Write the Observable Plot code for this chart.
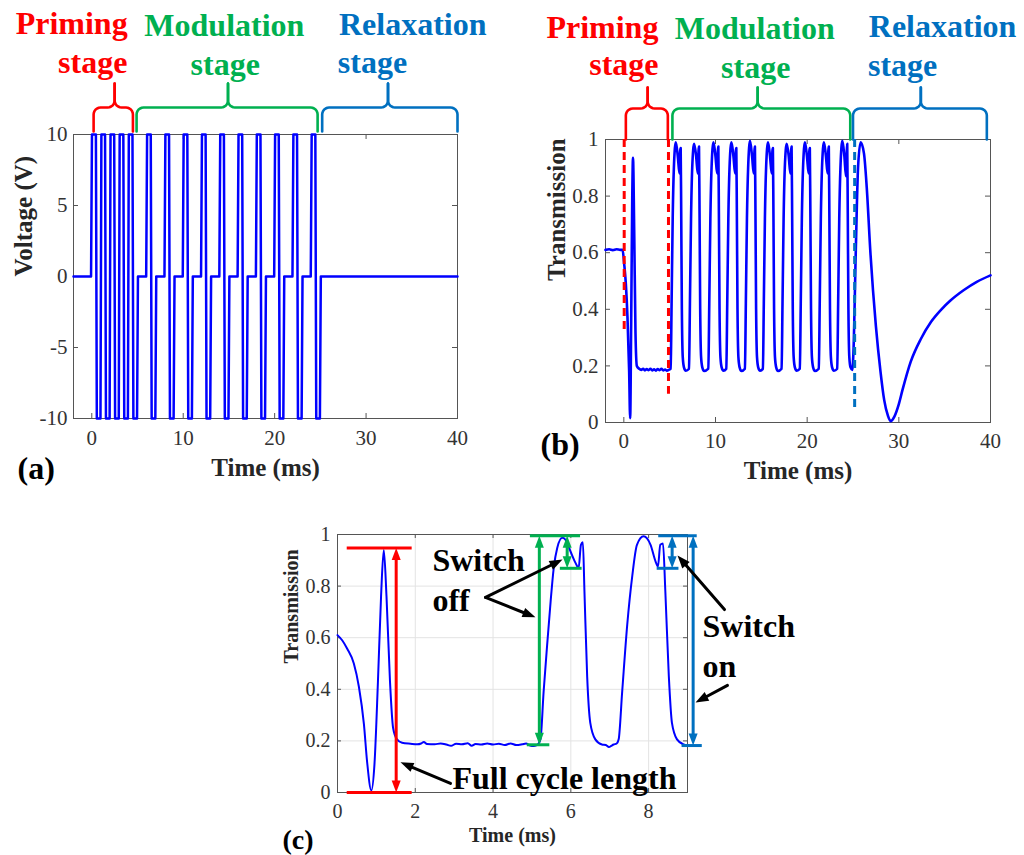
<!DOCTYPE html>
<html>
<head>
<meta charset="utf-8">
<script src="https://cdn.jsdelivr.net/npm/d3@7"></script>
<script src="https://cdn.jsdelivr.net/npm/@observablehq/plot@0.6"></script>
<style>
  html, body { margin: 0; padding: 0; background: #fff; }
  #root { position: relative; width: 1024px; height: 855px; overflow: hidden; background: #fff; }
  .panel { position: absolute; }
  .panel svg { overflow: visible; }
</style>
</head>
<body>
<div id="root"></div>
<script>
// ---------------- DATA ----------------
const stageNames = ["Priming", "Modulation", "Relaxation"];
const stageWord = "stage";
const stageColors = ["#ff0000", "#00b050", "#0070c0"];
const stageStart = [0, 5, 25];
const stageEnd = [5, 25, 40];

// (a) drive voltage breakpoints
const voltTime = [-2, -0.08,
  0.02, 0.45, 0.55, 0.95, 1.05, 1.45, 1.55, 1.95, 2.05, 2.45, 2.55, 2.95, 3.05, 3.45, 3.55, 3.95, 4.05, 4.45, 4.55, 4.95,
  5.05,
  5.95, 6.05, 6.45, 6.55, 6.95, 7.05,
  7.95, 8.05, 8.45, 8.55, 8.95, 9.05,
  9.95, 10.05, 10.45, 10.55, 10.95, 11.05,
  11.95, 12.05, 12.45, 12.55, 12.95, 13.05,
  13.95, 14.05, 14.45, 14.55, 14.95, 15.05,
  15.95, 16.05, 16.45, 16.55, 16.95, 17.05,
  17.95, 18.05, 18.45, 18.55, 18.95, 19.05,
  19.95, 20.05, 20.45, 20.55, 20.95, 21.05,
  21.95, 22.05, 22.45, 22.55, 22.95, 23.05,
  23.95, 24.05, 24.45, 24.55, 24.95, 25.05,
  40];
const voltValue = [0, 0,
  10, 10, -10, -10, 10, 10, -10, -10, 10, 10, -10, -10, 10, 10, -10, -10, 10, 10, -10, -10,
  0,
  0, 10, 10, -10, -10, 0,
  0, 10, 10, -10, -10, 0,
  0, 10, 10, -10, -10, 0,
  0, 10, 10, -10, -10, 0,
  0, 10, 10, -10, -10, 0,
  0, 10, 10, -10, -10, 0,
  0, 10, 10, -10, -10, 0,
  0, 10, 10, -10, -10, 0,
  0, 10, 10, -10, -10, 0,
  0, 10, 10, -10, -10, 0,
  0];

// (b) transmission, full 40 ms record [time ms, transmission]
const transB = [
  [-2,0.61],[-1.6,0.612],[-1.2,0.609],[-0.8,0.612],[-0.4,0.61],[-0.14,0.61],[0.04,0.56],[0.22,0.49],[0.4,0.37],[0.58,0.18],[0.69,0.015],[0.8,0.35],[0.92,0.8],[1.0,0.935],[1.13,0.68],[1.27,0.32],[1.42,0.2],[1.67,0.19],[1.9,0.186],[2.1,0.19],[2.3,0.184],[2.5,0.189],[2.7,0.185],[2.9,0.19],[3.1,0.184],[3.3,0.188],[3.5,0.183],[3.7,0.189],[3.9,0.185],[4.1,0.19],[4.3,0.184],[4.5,0.187],[4.7,0.183],[4.9,0.186],
  [5.11,0.19],[5.21,0.42],[5.33,0.72],[5.46,0.9],[5.67,0.99],[5.89,0.94],[6.07,0.88],[6.15,0.96],[6.2,0.97],[6.26,0.74],[6.33,0.4],[6.43,0.23],[6.56,0.195],[6.76,0.183],
  [7.11,0.19],[7.21,0.42],[7.33,0.72],[7.46,0.9],[7.67,0.985],[7.89,0.94],[8.07,0.88],[8.15,0.96],[8.2,0.975],[8.26,0.74],[8.33,0.4],[8.43,0.23],[8.56,0.195],[8.76,0.182],
  [9.22,0.19],[9.32,0.42],[9.44,0.72],[9.57,0.9],[9.78,0.99],[10.0,0.94],[10.18,0.88],[10.26,0.96],[10.31,0.975],[10.37,0.74],[10.44,0.4],[10.54,0.23],[10.67,0.195],[10.87,0.183],
  [11.18,0.19],[11.28,0.42],[11.4,0.72],[11.53,0.9],[11.74,0.99],[11.96,0.94],[12.14,0.88],[12.22,0.96],[12.27,0.97],[12.33,0.74],[12.4,0.4],[12.5,0.23],[12.63,0.195],[12.83,0.182],
  [13.21,0.19],[13.31,0.42],[13.43,0.72],[13.56,0.9],[13.77,0.995],[13.99,0.94],[14.17,0.88],[14.25,0.96],[14.3,0.975],[14.36,0.74],[14.43,0.4],[14.53,0.23],[14.66,0.195],[14.86,0.183],
  [15.17,0.19],[15.27,0.42],[15.39,0.72],[15.52,0.9],[15.73,0.99],[15.95,0.94],[16.13,0.88],[16.21,0.96],[16.26,0.97],[16.32,0.74],[16.39,0.4],[16.49,0.23],[16.62,0.195],[16.82,0.182],
  [17.21,0.19],[17.31,0.42],[17.43,0.72],[17.56,0.9],[17.77,0.985],[17.99,0.94],[18.17,0.88],[18.25,0.96],[18.3,0.975],[18.36,0.74],[18.43,0.4],[18.53,0.23],[18.66,0.195],[18.86,0.183],
  [19.2,0.19],[19.3,0.42],[19.42,0.72],[19.55,0.9],[19.76,0.99],[19.98,0.94],[20.16,0.88],[20.24,0.96],[20.29,0.97],[20.35,0.74],[20.42,0.4],[20.52,0.23],[20.65,0.195],[20.85,0.182],
  [21.27,0.19],[21.37,0.42],[21.49,0.72],[21.62,0.9],[21.83,0.99],[22.05,0.94],[22.23,0.88],[22.31,0.96],[22.36,0.975],[22.42,0.74],[22.49,0.4],[22.59,0.23],[22.72,0.195],[22.92,0.183],
  [23.28,0.19],[23.38,0.42],[23.5,0.72],[23.63,0.9],[23.84,0.995],[24.06,0.94],[24.24,0.87],[24.32,0.96],[24.37,0.985],[24.43,0.74],[24.5,0.4],[24.6,0.23],[24.73,0.195],[24.93,0.186],
  [25.05,0.25],[25.3,0.6],[25.55,0.9],[25.83,0.99],[26.2,0.95],[26.5,0.83],[26.9,0.6],[27.5,0.34],[28.0,0.18],[28.4,0.08],[28.8,0.025],[29.1,0.005],[29.5,0.02],[30.0,0.065],[30.4,0.115],[31.3,0.215],[32.4,0.295],[33.5,0.355],[34.6,0.398],[35.6,0.43],[37.1,0.468],[38.5,0.497],[40,0.52]
];

// (c) transmission, first 9 ms in detail [time ms, transmission]
const transC = [
  [0,0.61],[0.12,0.59],[0.25,0.557],[0.42,0.5],[0.55,0.41],[0.68,0.264],[0.76,0.121],[0.87,0.008],[0.95,0.108],[1.04,0.43],[1.12,0.76],[1.19,0.94],[1.26,0.76],[1.35,0.43],[1.43,0.25],[1.53,0.206],[1.66,0.193],[1.88,0.189],
  [2.05,0.187],[2.15,0.19],[2.22,0.196],[2.3,0.188],[2.5,0.187],[2.65,0.19],[2.8,0.186],[2.92,0.181],[3.05,0.189],[3.2,0.187],[3.35,0.191],[3.45,0.181],[3.55,0.188],[3.7,0.186],[3.85,0.19],[4.0,0.186],[4.15,0.189],[4.3,0.184],[4.45,0.19],[4.6,0.184],[4.75,0.187],[4.85,0.19],[4.95,0.182],[5.05,0.18],[5.15,0.186],
  [5.22,0.206],[5.3,0.39],[5.39,0.57],[5.48,0.74],[5.56,0.87],[5.65,0.948],[5.78,0.987],[5.86,0.98],[5.99,0.935],[6.12,0.89],[6.2,0.87],[6.26,0.96],[6.31,0.97],[6.35,0.78],[6.42,0.45],[6.5,0.27],[6.63,0.206],[6.8,0.186],[6.9,0.184],[6.98,0.176],[7.05,0.182],[7.1,0.186],[7.18,0.19],
  [7.23,0.206],[7.32,0.39],[7.45,0.65],[7.58,0.84],[7.7,0.96],[7.87,0.993],[8.05,0.96],[8.18,0.895],[8.24,0.876],[8.3,0.96],[8.37,0.965],[8.43,0.78],[8.52,0.45],[8.6,0.27],[8.73,0.206],[8.9,0.186],[9.0,0.183]
];

// tick values
const timeTicks = [0, 10, 20, 30, 40];
const voltTicks = [-10, -5, 0, 5, 10];
const transTicks = [0, 0.2, 0.4, 0.6, 0.8, 1];
const zoomTimeTicks = [0, 2, 4, 6, 8];

// (c) measurement annotations (c = stage colour index)
const levelLines = [
  {x1: 0.25, x2: 1.92, y: 0.948, c: 0}, {x1: 0.25, x2: 1.92, y: 0, c: 0},
  {x1: 4.96, x2: 6.25, y: 0.995, c: 1}, {x1: 4.88, x2: 5.46, y: 0.185, c: 1}, {x1: 5.73, x2: 6.29, y: 0.869, c: 1},
  {x1: 8.26, x2: 9.25, y: 0.995, c: 2}, {x1: 8.22, x2: 8.78, y: 0.869, c: 2}, {x1: 8.86, x2: 9.38, y: 0.182, c: 2}
];
const spanArrows = [
  {x: 1.509, y1: 0, y2: 0.948, c: 0},
  {x: 5.19, y1: 0.185, y2: 0.995, c: 1}, {x: 5.906, y1: 0.869, y2: 0.995, c: 1},
  {x: 8.605, y1: 0.869, y2: 0.995, c: 2}, {x: 9.145, y1: 0.182, y2: 0.995, c: 2}
];
const calloutText = [
  {text: "Switch", x: 2.44, y: 0.86}, {text: "off", x: 2.44, y: 0.705},
  {text: "Switch", x: 9.385, y: 0.601}, {text: "on", x: 9.385, y: 0.446},
  {text: "Full cycle length", x: 2.957, y: 0.012}
];
const calloutArrows = [
  {x1: 2.906, y1: 0.035, x2: 1.62, y2: 0.117},
  {x1: 3.806, y1: 0.756, x2: 5.786, y2: 0.903},
  {x1: 3.806, y1: 0.756, x2: 5.091, y2: 0.679},
  {x1: 9.951, y1: 0.709, x2: 8.743, y2: 0.919},
  {x1: 10.028, y1: 0.415, x2: 9.205, y2: 0.349}
];

// ---------------- LAYOUT ----------------
const serif = "'Liberation Serif', 'Times New Roman', Times, serif";
const fmt = d => String(d);
const CURVE = "#0000ff";
const AXC = "#262626";
const TICKC = "#333";
const FRAME = "#555";
const root = document.getElementById("root");

function geom(p) {
  p.pw = p.width - p.ml - p.mr; p.ph = p.height - p.mt - p.mb;
  p.kx = p.pw / (p.xd[1] - p.xd[0]); p.ky = p.ph / (p.yd[1] - p.yd[0]);
  return p;
}
const A = geom({left: 0, top: 0, width: 512, height: 500, ml: 73, mr: 55, mt: 134, mb: 82, xd: [-2, 40], yd: [-10, 10]});
const B = geom({left: 512, top: 0, width: 512, height: 500, ml: 93, mr: 34, mt: 139, mb: 78, xd: [-2, 40], yd: [0, 1]});
const C = geom({left: 250, top: 500, width: 560, height: 355, ml: 87, mr: 123, mt: 34, mb: 63, xd: [0, 9], yd: [0, 1]});

const stageLayoutA = {
  nameX: [-2.2, 14.5, 35.1], nameBase: [33, 35, 34],
  wordX: [0.1, 14.6, 30.7], wordBase: [72, 74, 72],
  braceFrom: [0.2, 4.9, 25.2], braceTo: [4.5, 24.7, 40], braceTip: [2.5, 14.9, 32.4],
  end: 3, mid: 27, top: 51, corner: 7
};
const stageLayoutB = {
  nameX: [-2.34, 14.28, 34.77], nameBase: [37, 38, 36],
  wordX: [0, 14.39, 30.41], wordBase: [74, 77, 75],
  braceFrom: [0.22, 5.3, 25.0], braceTo: [4.8, 24.7, 39.6], braceTip: [2.6, 14.6, 32.4],
  end: 0, mid: 31, top: 52, corner: 7
};
const dashLayoutB = [
  {x: 0.04, y1: 1, y2: 0.32, c: 0},
  {x: 4.87, y1: 1, y2: 0.1, c: 0},
  {x: 25.18, y1: 1, y2: 0.05, c: 2}
];

function baseOptions(P) {
  return {
    width: P.width, height: P.height,
    marginTop: P.mt, marginRight: P.mr, marginBottom: P.mb, marginLeft: P.ml,
    x: {domain: P.xd, axis: null}, y: {domain: P.yd, axis: null},
    style: {background: "transparent", overflow: "visible"}
  };
}
// tick labels drawn as text marks positioned by the x / y scales
function tickLabels(xt, yt, fs, padX, padY) {
  const t = {text: fmt, fontFamily: serif, fontSize: fs, fill: TICKC};
  return [
    Plot.text(xt, {...t, x: d => d, frameAnchor: "bottom", dy: padX, lineAnchor: "top", textAnchor: "middle"}),
    Plot.text(yt, {...t, y: d => d, frameAnchor: "left", dx: -padY, lineAnchor: "middle", textAnchor: "end"})
  ];
}

function innerTicks(P, xt, yt, len) {
  return [
    Plot.tickX(xt, {insetTop: P.ph - len, stroke: FRAME}),
    Plot.tickX(xt, {insetBottom: P.ph - len, stroke: FRAME}),
    Plot.tickY(yt, {insetRight: P.pw - len, stroke: FRAME}),
    Plot.tickY(yt, {insetLeft: P.pw - len, stroke: FRAME})
  ];
}

// curly brace geometry (px above frame converted to y data units)
function braceMarks(P, L) {
  const up = px => P.yd[1] + px / P.ky;
  const marks = [];
  stageNames.forEach((name, i) => {
    const pts = [];
    const r = L.corner;
    for (const [side, xe, s] of [["l", L.braceFrom[i], 1], ["r", L.braceTo[i], -1]]) {
      const tip = L.braceTip[i];
      const X = d => xe + s * d / P.kx;
      const T = d => tip - s * d / P.kx;
      pts.push({k: side, x: X(0), y: up(L.end)});
      for (let j = 0; j <= 6; j++) {
        const a = Math.PI - j * Math.PI / 12;
        pts.push({k: side, x: X(r + r * Math.cos(a)), y: up(L.mid - r + r * Math.sin(a))});
      }
      for (let j = 0; j <= 6; j++) {
        const a = -Math.PI / 2 + j * Math.PI / 12;
        pts.push({k: side, x: T(r - r * Math.cos(a)), y: up(L.mid + r + r * Math.sin(a))});
      }
      pts.push({k: side, x: T(0), y: up(L.top)});
    }
    marks.push(Plot.line(pts, {x: "x", y: "y", z: "k", stroke: stageColors[i], strokeWidth: 2.6}));
  });
  return marks;
}

function stageTextMarks(P, L) {
  const marks = [];
  stageNames.forEach((name, i) => {
    const common = {frameAnchor: "top", lineAnchor: "bottom", textAnchor: "middle",
      fontSize: 32, fontWeight: "bold", fontFamily: serif, fill: stageColors[i]};
    marks.push(Plot.text([name], {...common, x: () => L.nameX[i], dy: L.nameBase[i] - P.mt}));
    marks.push(Plot.text([stageWord], {...common, x: () => L.wordX[i], dy: L.wordBase[i] - P.mt}));
  });
  return marks;
}

function axisTitles(P, xTitle, yTitle, fs, dyX, dxY) {
  return [
    Plot.text([xTitle], {frameAnchor: "bottom", dy: dyX, lineAnchor: "bottom", fontSize: fs, fontWeight: "bold", fontFamily: serif, fill: AXC}),
    Plot.text([yTitle], {frameAnchor: "left", dx: dxY, rotate: -90, lineAnchor: "middle", fontSize: fs, fontWeight: "bold", fontFamily: serif, fill: AXC})
  ];
}
function panelLabel(label, dx, dy, fs) {
  return Plot.text([label], {frameAnchor: "bottom-left", dx, dy, textAnchor: "start", lineAnchor: "bottom",
    fontSize: fs, fontWeight: "bold", fontFamily: serif, fill: "#000"});
}

function mount(P, svg) {
  const d = document.createElement("div");
  d.className = "panel";
  d.style.left = P.left + "px"; d.style.top = P.top + "px";
  d.appendChild(svg);
  root.appendChild(d);
}

// ---------------- PANEL (a) ----------------
const voltRows = voltTime.map((t, i) => ({t, v: voltValue[i]}));
mount(A, Plot.plot({
  ...baseOptions(A),
  marks: [
    Plot.frame({stroke: FRAME}),
    ...innerTicks(A, timeTicks, voltTicks, 5),
    ...tickLabels(timeTicks, voltTicks, 21, 12, 6),
    Plot.line(voltRows, {x: "t", y: "v", stroke: CURVE, strokeWidth: 2.5}),
    ...braceMarks(A, stageLayoutA),
    ...stageTextMarks(A, stageLayoutA),
    ...axisTitles(A, "Time (ms)", "Voltage (V)", 25, 57, -50),
    panelLabel("(a)", -56, 60, 32)
  ]
}));

// ---------------- PANEL (b) ----------------
const rowsB = transB.map(([t, v]) => ({t, v}));
mount(B, Plot.plot({
  ...baseOptions(B),
  marks: [
    Plot.frame({stroke: FRAME}),
    ...innerTicks(B, timeTicks, transTicks, 5),
    ...tickLabels(timeTicks, transTicks, 21, 11, 7),
    Plot.line(rowsB, {x: "t", y: "v", stroke: CURVE, strokeWidth: 2.6, curve: "monotone-x"}),
    ...[0, 2].map(c => Plot.ruleX(dashLayoutB.filter(d => d.c === c), {x: "x", y1: "y1", y2: "y2",
      stroke: stageColors[c], strokeWidth: 3, strokeDasharray: "8,5"})),
    ...braceMarks(B, stageLayoutB),
    ...stageTextMarks(B, stageLayoutB),
    ...axisTitles(B, "Time (ms)", "Transmission", 25, 56, -49),
    panelLabel("(b)", -65, 32, 32)
  ]
}));

// ---------------- PANEL (c) ----------------
const rowsC = transC.map(([t, v]) => ({t, v}));
const headSymbol = {
  draw(ctx, size) {
    const r = Math.sqrt(size / Math.PI);
    ctx.moveTo(0, 0); ctx.lineTo(-0.75 * r, 2 * r); ctx.lineTo(0.75 * r, 2 * r); ctx.closePath();
  }
};
const spanHeads = spanArrows.flatMap(d => [
  {x: d.x, y: d.y2, rot: 0, c: d.c}, {x: d.x, y: d.y1, rot: 180, c: d.c}
]);
const calloutHeads = calloutArrows.map(d => {
  const dxp = (d.x2 - d.x1) * C.kx, dyp = -(d.y2 - d.y1) * C.ky;
  return {x: d.x2, y: d.y2, rot: Math.atan2(dxp, -dyp) * 180 / Math.PI};
});
const colorMarks = [0, 1, 2].flatMap(c => [
  Plot.ruleY(levelLines.filter(d => d.c === c), {y: "y", x1: "x1", x2: "x2", stroke: stageColors[c], strokeWidth: 3}),
  Plot.arrow(spanArrows.filter(d => d.c === c), {x1: "x", x2: "x", y1: "y1", y2: "y2", headLength: 0,
    insetStart: 9, insetEnd: 9, stroke: stageColors[c], strokeWidth: 3}),
  Plot.dot(spanHeads.filter(d => d.c === c), {x: "x", y: "y", rotate: "rot", symbol: headSymbol, r: 6,
    fill: stageColors[c], stroke: "none"})
]);
mount(C, Plot.plot({
  ...baseOptions(C),
  marks: [
    Plot.ruleX(zoomTimeTicks, {stroke: "#e3e3e3"}),
    Plot.ruleY(transTicks, {stroke: "#e3e3e3"}),
    Plot.frame({stroke: FRAME}),
    ...innerTicks(C, zoomTimeTicks, transTicks, 4),
    ...tickLabels(zoomTimeTicks, transTicks, 20, 11, 7),
    Plot.line(rowsC, {x: "t", y: "v", stroke: CURVE, strokeWidth: 2, curve: "monotone-x"}),
    ...colorMarks,
    Plot.arrow(calloutArrows, {x1: "x1", y1: "y1", x2: "x2", y2: "y2", headLength: 0, insetEnd: 9, stroke: "#000", strokeWidth: 3}),
    Plot.dot(calloutHeads, {x: "x", y: "y", rotate: "rot", symbol: headSymbol, r: 6.5, fill: "#000", stroke: "none"}),
    Plot.text(calloutText, {x: "x", y: "y", text: "text", textAnchor: "start", lineAnchor: "bottom",
      fontSize: 32, fontWeight: "bold", fontFamily: serif, fill: "#000"}),
    ...axisTitles(C, "Time (ms)", "Transmission", 20, 49, -46),
    panelLabel("(c)", -55, 56, 28)
  ]
}));
</script>
</body>
</html>
